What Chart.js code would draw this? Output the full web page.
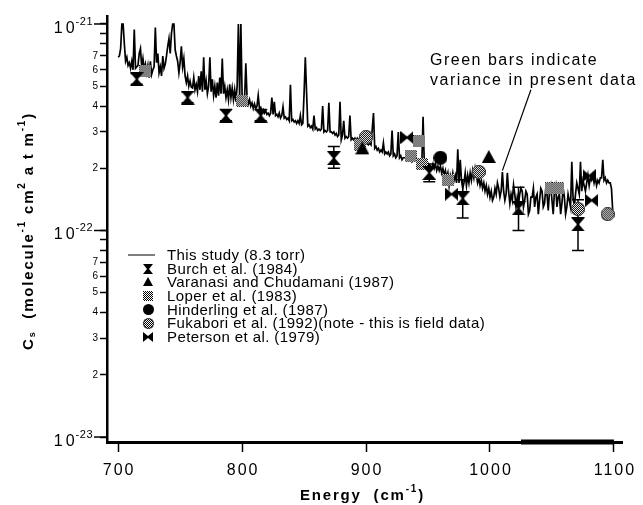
<!DOCTYPE html>
<html>
<head>
<meta charset="utf-8">
<script src="https://cdn.jsdelivr.net/npm/chart.js@4.4.1/dist/chart.umd.min.js"></script>
<style>
  html, body { margin: 0; padding: 0; background: #fff; }
  canvas { display: block; }
</style>
</head>
<body>
<canvas id="chart" width="643" height="505"></canvas>
<script>
// all absorption values are in units of 1e-22 molecule^-1 cm^2 atm^-1
const specE = [
  700, 701, 702, 703, 704, 705, 706, 707, 708, 709,
  710, 711, 712, 713, 714, 716, 717, 718, 719, 720,
  721, 722, 723, 724, 725, 726, 727, 728, 729, 730,
  731, 732, 733, 734, 735, 736, 737, 738, 739, 740,
  741, 742, 743, 744, 745, 746, 747, 748, 749, 750,
  751, 752, 753, 754, 755, 756, 757, 758, 759, 760,
  761, 762, 763, 764, 765, 766, 767, 768, 769, 770,
  771, 772, 773, 774, 775, 776, 777, 778, 779, 780,
  781, 782, 783, 784, 785, 786, 787, 788, 789, 790,
  791, 792, 793, 794, 795, 796, 797, 798, 799, 800,
  801, 802, 803, 804, 805, 806, 807, 808, 809, 810,
  811, 812, 813, 814, 815, 816, 817, 818, 819, 820,
  821, 822, 823, 824, 825, 826, 827, 828, 829, 830,
  831, 832, 833, 834, 835, 836, 837, 838, 839, 840,
  841, 842, 843, 844, 845, 846, 847, 848, 849, 850,
  851, 852, 853, 854, 855, 856, 857, 858, 859, 860,
  861, 862, 863, 864, 865, 866, 867, 868, 869, 870,
  871, 872, 873, 874, 875, 876, 877, 878, 879, 880,
  881, 882, 883, 884, 885, 886, 887, 888, 889, 890,
  891, 892, 893, 894, 895, 896, 897, 898, 899, 900,
  902, 903, 904, 906, 907, 908, 909, 910, 911, 912,
  913, 914, 915, 916, 917, 918, 919, 920, 921, 922,
  923, 924, 925, 926, 927, 928, 929, 930, 931, 932,
  933, 934, 935, 936, 937, 938, 939, 940, 941, 942,
  943, 944, 945, 946, 947, 948, 949, 950, 951, 952,
  953, 954, 955, 956, 957, 958, 959, 960, 961, 962,
  963, 964, 965, 966, 967, 968, 969, 970, 971, 972,
  973, 974, 975, 976, 977, 978, 979, 980, 981, 982,
  983, 984, 985, 986, 987, 988, 989, 990, 991, 992,
  993, 994, 995, 996, 997, 998, 999, 1000, 1001, 1002,
  1003, 1004, 1005, 1006, 1007, 1008, 1009, 1010, 1011, 1012,
  1013, 1014, 1015, 1016, 1017, 1018, 1019, 1020, 1021, 1022,
  1023, 1024, 1025, 1026, 1027, 1028, 1029, 1030, 1031, 1032,
  1033, 1034, 1035, 1036, 1037, 1038, 1039, 1040, 1041, 1042,
  1043, 1044, 1045, 1046, 1047, 1048, 1049, 1050, 1051, 1052,
  1053, 1054, 1055, 1056, 1057, 1058, 1059, 1060, 1061, 1062,
  1063, 1064, 1065, 1066, 1067, 1068, 1069, 1070, 1071, 1072,
  1073, 1074, 1075, 1076, 1077, 1078, 1079, 1080, 1081, 1082,
  1083, 1084, 1085, 1086, 1087, 1088, 1089, 1090, 1091, 1092,
  1093, 1094, 1095, 1096, 1097, 1098, 1099
];
const specV = [
  6.9, 7.0, 7.6, 10, 10, 8.0, 6.6, 6.9, 6.3, 6.5,
  6.1, 6.6, 6.0, 9.4, 6.1, 6.3, 7.2, 7.6, 6.2, 6.8,
  6.0, 6.4, 5.8, 6.3, 5.5, 6.6, 5.7, 6.0, 6.2, 9.6,
  6.5, 7.2, 5.8, 6.2, 5.6, 7.0, 6.1, 6.4, 7.0, 7.8,
  8.5, 7.2, 9.0, 10, 10, 7.5, 7.0, 6.6, 5.8, 6.5,
  7.8, 6.2, 6.8, 5.6, 5.2, 5.6, 5.0, 5.3, 4.95, 4.9,
  5.5, 4.8, 5.1, 4.7, 5.6, 4.8, 5.9, 4.7, 6.9, 4.8,
  5.3, 4.6, 5.0, 6.9, 4.7, 5.4, 4.5, 5.0, 4.4, 5.2,
  4.5, 5.5, 4.6, 6.8, 4.6, 5.0, 4.4, 4.8, 4.3, 5.1,
  4.4, 4.9, 4.3, 4.8, 4.2, 5.0, 10, 4.4, 10, 4.5,
  4.2, 4.35, 6.45, 4.4, 4.1, 4.3, 4.0, 4.15, 3.9, 4.1,
  3.9, 4.0, 4.5, 3.9, 3.95, 3.75, 3.85, 3.7, 3.8, 3.65,
  3.7, 3.6, 3.7, 4.4, 3.65, 4.2, 3.6, 3.65, 3.55, 3.7,
  3.5, 3.6, 3.97, 3.5, 3.55, 3.45, 3.5, 3.4, 5.07, 3.4,
  3.45, 3.35, 3.4, 3.3, 3.4, 3.3, 3.6, 3.25, 3.3, 4.6,
  6.9, 4.7, 3.2, 3.25, 3.15, 3.2, 3.1, 3.6, 3.1, 3.15,
  3.05, 3.1, 3.05, 3.1, 4.0, 3.0, 3.05, 3.0, 3.05, 4.15,
  3.0, 3.0, 2.95, 3.0, 2.9, 2.95, 2.85, 2.9, 4.2, 2.75,
  2.9, 3.4, 2.8, 2.85, 2.8, 2.85, 3.6, 2.75, 2.8, 2.75,
  2.8, 2.7, 2.8, 2.75, 2.75, 2.7, 2.75, 2.65, 2.7, 2.65,
  2.6, 2.65, 2.6, 3.7, 2.5, 2.55, 2.45, 2.5, 2.4, 2.45,
  2.4, 2.65, 2.35, 2.4, 2.35, 2.4, 2.3, 2.35, 3.05, 2.3,
  2.35, 2.25, 2.3, 3.0, 2.25, 2.3, 2.2, 2.25, 2.25, 2.25,
  2.2, 2.25, 2.2, 2.2, 2.15, 2.2, 2.2, 2.2, 2.15, 2.15,
  2.1, 2.15, 2.1, 3.55, 2.1, 2.1, 2.05, 2.1, 2.0, 2.05,
  2.0, 2.1, 2.0, 2.1, 1.95, 2.05, 1.95, 2.05, 1.9, 2.0,
  1.85, 1.95, 1.8, 1.9, 1.65, 1.85, 1.75, 1.9, 1.75, 1.85,
  1.7, 2.47, 1.7, 2.2, 1.75, 1.6, 1.7, 1.9, 1.65, 1.85,
  1.7, 1.9, 1.75, 1.95, 1.8, 2.0, 1.85, 1.7, 1.8, 1.65,
  1.75, 1.6, 1.7, 1.55, 1.65, 1.5, 1.6, 1.45, 1.55, 1.4,
  1.45, 1.6, 1.5, 1.7, 1.6, 1.45, 1.55, 1.92, 1.55, 1.4,
  1.5, 1.9, 1.55, 1.35, 1.5, 1.4, 1.66, 1.5, 1.3, 1.45,
  1.35, 1.5, 1.6, 1.55, 1.3, 1.4, 1.55, 1.5, 1.2, 1.25,
  1.45, 1.45, 1.6, 1.3, 1.45, 1.5, 1.2, 1.4, 1.6, 1.55,
  1.3, 1.35, 1.6, 1.5, 1.25, 1.55, 1.65, 1.4, 1.2, 1.55,
  1.65, 1.3, 1.45, 1.5, 1.2, 1.35, 1.6, 1.45, 1.2, 1.3,
  1.5, 1.4, 1.3, 2.15, 1.45, 1.3, 1.5, 1.7, 1.6, 1.5,
  2.15, 1.55, 1.75, 1.65, 1.55, 1.7, 1.85, 1.65, 1.8, 1.75,
  1.85, 1.7, 1.8, 1.65, 1.75, 1.7, 1.8, 1.8, 2.2, 1.75,
  1.8, 1.7, 1.75, 1.7, 1.7, 1.6, 1.25
];

const burchE  = [715, 756, 787, 815, 874, 951, 978, 1023, 1071];
const burchV  = [5.4, 4.4, 3.6, 3.6, 2.24, 1.9, 1.43, 1.28, 1.07];
const burchLo = [5.1, 4.15, 3.4, 3.4, 2.0, 1.72, 1.15, 1.0, 0.8];
const burchHi = [5.75, 4.7, 3.85, 3.85, 2.55, 2.1, 1.76, 1.62, 1.41];

const varanasiE = [897, 999];
const varanasiV = [2.5, 2.27];

const loperE = [722, 800, 895, 936, 943, 945, 966, 1049, 1055];
const loperV = [5.9, 4.25, 2.6, 2.3, 2.7, 2.1, 1.75, 1.6, 1.6];

const hinderlingE = [960];
const hinderlingV = [2.25];

const fukaboriE = [900, 991, 1071, 1095];
const fukaboriV = [2.84, 1.92, 1.27, 1.2];

const petersonE = [933, 969, 1080, 1082];
const petersonV = [2.82, 1.5, 1.84, 1.4];

// thick stretch drawn along the bottom axis
const varianceBarE = [1025, 1100];

const xTicks = [700, 800, 900, 1000, 1100];
const yTicks = [0.1, 0.2, 0.3, 0.4, 0.5, 0.6, 0.7, 0.8, 0.9,
                1, 2, 3, 4, 5, 6, 7, 8, 9, 10];

const X_MIN = 691, X_MAX = 1106.5;
const Y_MIN = 0.0946, Y_MAX = 10.93;
const FONT = "'Liberation Sans', Arial, Helvetica, sans-serif";

const pts = (xs, ys) => xs.map((x, i) => ({ x: x, y: ys[i] }));

// marker images
function makeMarker(kind, size) {
    const c = document.createElement('canvas');
    c.width = size;
    c.height = size;
    const g = c.getContext('2d');
    const h = size / 2;
    g.fillStyle = '#000';
    g.beginPath();
    if (kind === 'hourglass') {
        g.moveTo(0, 0); g.lineTo(size, 0); g.lineTo(h + 1, h);
        g.lineTo(size, size); g.lineTo(0, size); g.lineTo(h - 1, h);
        g.closePath(); g.fill();
    } else if (kind === 'bowtie') {
        g.moveTo(0, 0); g.lineTo(h, h - 1); g.lineTo(size, 0);
        g.lineTo(size, size); g.lineTo(h, h + 1); g.lineTo(0, size);
        g.closePath(); g.fill();
    } else if (kind === 'triangle') {
        g.moveTo(h, 0); g.lineTo(size, size - 1); g.lineTo(0, size - 1);
        g.closePath(); g.fill();
    } else if (kind === 'circle') {
        g.arc(h, h, h, 0, Math.PI * 2); g.fill();
    } else {
        // halftone grey: dotted circle or checkered square
        if (kind === 'dotCircle') g.arc(h, h, h, 0, Math.PI * 2);
        else g.rect(0, 0, size, size);
        g.save();
        g.clip();
        g.fillStyle = '#fff';
        g.fillRect(0, 0, size, size);
        g.fillStyle = '#000';
        for (let y = 0; y < size; y++) {
            for (let x = 0; x < size; x++) {
                if ((x + y) % 2 === 0) g.fillRect(x, y, 1, 1);
            }
        }
        g.restore();
        if (kind === 'dotCircle') {
            g.strokeStyle = '#333';
            g.lineWidth = 1;
            g.beginPath();
            g.arc(h, h, h - 0.5, 0, Math.PI * 2);
            g.stroke();
        }
    }
    return c;
}

const markers = {
    burch: makeMarker('hourglass', 14),
    varanasi: makeMarker('triangle', 14),
    loper: makeMarker('dotSquare', 12),
    hinderling: makeMarker('circle', 14),
    fukabori: makeMarker('dotCircle', 14),
    peterson: makeMarker('bowtie', 13)
};
const legendMarkers = {
    burch: makeMarker('hourglass', 10),
    varanasi: makeMarker('triangle', 10),
    loper: makeMarker('dotSquare', 10),
    hinderling: makeMarker('circle', 11),
    fukabori: makeMarker('dotCircle', 11),
    peterson: makeMarker('bowtie', 10)
};

function textRun(ctx, parts, x, y) {
    // parts: [text, fontSize, dy]
    parts.forEach(p => {
        ctx.font = 'bold ' + p[1] + 'px ' + FONT;
        ctx.fillText(p[0], x, y + p[2]);
        x += ctx.measureText(p[0]).width;
    });
}

const decor = {
    id: 'decor',
    beforeDatasetsDraw(chart) {
        const ctx = chart.ctx;
        const xs = chart.scales.x, ys = chart.scales.y;
        ctx.save();
        ctx.strokeStyle = '#000';
        ctx.lineWidth = 1.5;
        burchE.forEach((e, i) => {
            const px = xs.getPixelForValue(e);
            const lo = ys.getPixelForValue(burchLo[i]);
            const hi = ys.getPixelForValue(burchHi[i]);
            ctx.beginPath();
            ctx.moveTo(px, lo); ctx.lineTo(px, hi);
            ctx.moveTo(px - 6, lo); ctx.lineTo(px + 6, lo);
            ctx.moveTo(px - 6, hi); ctx.lineTo(px + 6, hi);
            ctx.stroke();
        });
        ctx.restore();
    },
    afterDraw(chart) {
        const ctx = chart.ctx;
        const xs = chart.scales.x, ys = chart.scales.y;
        const area = chart.chartArea;
        ctx.save();
        ctx.fillStyle = '#000';
        ctx.strokeStyle = '#000';

        // longer ticks and 10^n labels for each decade
        ctx.lineWidth = 1.5;
        yTicks.forEach(v => {
            const lg = Math.log10(v);
            if (Math.abs(lg - Math.round(lg)) > 1e-6) return;
            const py = ys.getPixelForValue(v);
            ctx.beginPath();
            ctx.moveTo(area.left - 13, py); ctx.lineTo(area.left, py);
            ctx.stroke();
            const expText = String(Math.round(lg) - 22);
            ctx.letterSpacing = '0.5px';
            ctx.font = '11px ' + FONT;
            ctx.textAlign = 'left';
            ctx.textBaseline = 'alphabetic';
            const ew = ctx.measureText(expText).width;
            const ex = area.left - 14 - ew;
            ctx.fillText(expText, ex, py + 1);
            ctx.letterSpacing = '3px';
            ctx.font = '16px ' + FONT;
            ctx.textAlign = 'right';
            ctx.fillText('10', ex + 2, py + 9);
        });

        // x tick labels
        ctx.letterSpacing = '2px';
        ctx.font = '16px ' + FONT;
        ctx.textAlign = 'center';
        ctx.textBaseline = 'alphabetic';
        xTicks.forEach(v => {
            ctx.fillText(String(v), xs.getPixelForValue(v) + 1, area.bottom + 33);
        });

        // axis titles
        ctx.letterSpacing = '1.8px';
        ctx.textAlign = 'left';
        textRun(ctx, [['Energy  (cm', 15, 0], ['-1', 10, -8], [')', 15, 0]], 300, 500);

        ctx.save();
        ctx.translate(33, 350);
        ctx.rotate(-Math.PI / 2);
        textRun(ctx, [
            ['C', 15, 0], ['s', 9, 2], ['  (molecule', 15, 0], ['-1', 10, -8],
            [' cm', 15, 0], ['2', 10, -8], [' a t m', 15, 0], ['-1', 10, -8], [')', 15, 0]
        ], 0, 0);
        ctx.restore();

        // legend inside the plot
        ctx.letterSpacing = '0.4px';
        ctx.font = '15px ' + FONT;
        ctx.textBaseline = 'middle';
        const rowY0 = 255, rowStep = 13.6;
        chart.data.datasets.forEach(ds => {
            if (ds.legendRow === undefined) return;
            const y = rowY0 + ds.legendRow * rowStep;
            if (ds.legendKey === 'line') {
                ctx.lineWidth = 1;
                ctx.beginPath();
                ctx.moveTo(128, y); ctx.lineTo(155, y);
                ctx.stroke();
            } else {
                const m = legendMarkers[ds.legendKey];
                ctx.drawImage(m, Math.round(148 - m.width / 2), Math.round(y - m.height / 2));
            }
            ctx.fillText(ds.label, 167, y + 1);
        });

        // note with pointer
        ctx.letterSpacing = '1.5px';
        ctx.font = '16px ' + FONT;
        ctx.textBaseline = 'alphabetic';
        ctx.fillText('Green bars indicate', 430, 65);
        ctx.fillText('variance in present data', 430, 85);
        ctx.lineWidth = 1.2;
        ctx.beginPath();
        ctx.moveTo(xs.getPixelForValue(1033), ys.getPixelForValue(4.8));
        ctx.lineTo(xs.getPixelForValue(1010), ys.getPixelForValue(1.95));
        ctx.stroke();
        ctx.restore();
    }
};

const markerSet = (label, key, row, xs, ys) => ({
    label: label,
    legendKey: key,
    legendRow: row,
    data: pts(xs, ys),
    pointStyle: markers[key],
    pointRadius: 7,
    pointHoverRadius: 7,
    showLine: false,
    order: 0
});

new Chart(document.getElementById('chart'), {
    type: 'scatter',
    data: {
        datasets: [
            markerSet('Burch et al. (1984)', 'burch', 1, burchE, burchV),
            markerSet('Varanasi and Chudamani (1987)', 'varanasi', 2, varanasiE, varanasiV),
            markerSet('Loper et al. (1983)', 'loper', 3, loperE, loperV),
            markerSet('Hinderling et al. (1987)', 'hinderling', 4, hinderlingE, hinderlingV),
            markerSet('Fukabori et al. (1992)(note - this is field data)', 'fukabori', 5, fukaboriE, fukaboriV),
            markerSet('Peterson et al. (1979)', 'peterson', 6, petersonE, petersonV),
            {
                label: 'This study (8.3 torr)',
                legendKey: 'line',
                legendRow: 0,
                data: pts(specE, specV),
                showLine: true,
                borderColor: '#000',
                borderWidth: 1.7,
                pointRadius: 0,
                tension: 0,
                order: 2
            },
            {
                label: 'variance',
                data: varianceBarE.map(e => ({ x: e, y: Y_MIN })),
                showLine: true,
                borderColor: '#000',
                borderWidth: 5,
                pointRadius: 0,
                clip: false,
                order: 1
            }
        ]
    },
    options: {
        responsive: false,
        animation: false,
        devicePixelRatio: 1,
        layout: { padding: { top: 16, right: 21, left: 0, bottom: 0 } },
        plugins: { legend: { display: false }, tooltip: { enabled: false } },
        scales: {
            x: {
                type: 'linear',
                min: X_MIN,
                max: X_MAX,
                afterBuildTicks: s => { s.ticks = xTicks.map(v => ({ value: v })); },
                afterFit: s => { s.height = 63; },
                border: { display: true, width: 3, color: '#000' },
                grid: { drawOnChartArea: false, drawTicks: true, tickLength: 10, tickWidth: 1.5, tickColor: '#000' },
                ticks: { display: false }
            },
            y: {
                type: 'logarithmic',
                min: Y_MIN,
                max: Y_MAX,
                afterBuildTicks: s => { s.ticks = yTicks.map(v => ({ value: v })); },
                afterFit: s => { s.width = 107; },
                border: { display: true, width: 2.5, color: '#000' },
                grid: { drawOnChartArea: false, drawTicks: true, tickLength: 7, tickWidth: 1.5, tickColor: '#000' },
                ticks: {
                    autoSkip: false,
                    color: '#000',
                    padding: 2,
                    font: { family: FONT, size: 10 },
                    callback: v => {
                        const e = Math.floor(Math.log10(v) + 1e-9);
                        const m = Math.round(v / Math.pow(10, e));
                        return (m >= 2 && m <= 7) ? String(m) : '';
                    }
                }
            }
        }
    },
    plugins: [decor]
});
</script>
</body>
</html>
